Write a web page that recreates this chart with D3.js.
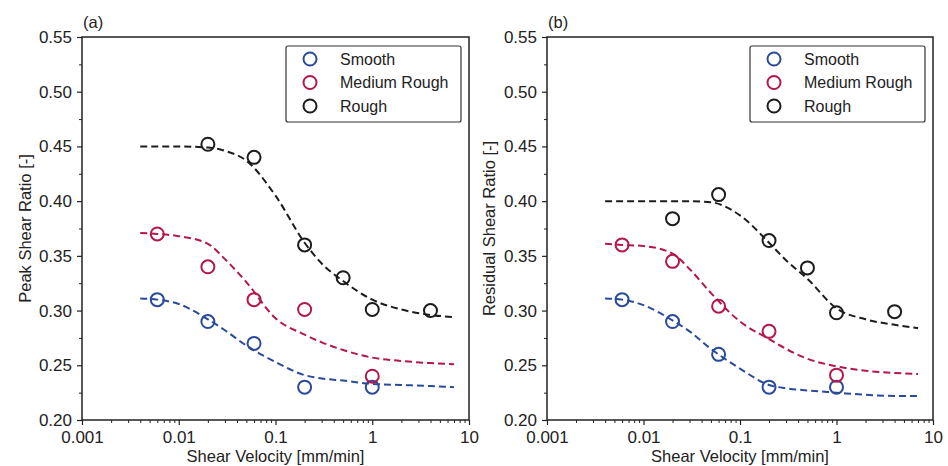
<!DOCTYPE html>
<html><head><meta charset="utf-8">
<script src="https://cdn.jsdelivr.net/npm/d3@7"></script>
<style>
body{margin:0;background:#fff;}
svg{display:block;font-family:"Liberation Sans",Arial,sans-serif;}
</style></head>
<body><svg id="chart" width="948" height="466"></svg>
<script>
// ---------- data ----------
const seriesNames = ["Smooth", "Medium Rough", "Rough"];
const seriesColors = ["#2a4a9a", "#b3174d", "#1c1c1c"];
const yTicks = [0.20, 0.25, 0.30, 0.35, 0.40, 0.45, 0.50, 0.55];
const xTicks = [0.001, 0.01, 0.1, 1, 10];
const xTickLabels = ["0.001", "0.01", "0.1", "1", "10"];

// Panel (a) Peak shear ratio - measured points
const peakSmoothX = [0.006, 0.02, 0.06, 0.2, 1];
const peakSmoothY = [0.31, 0.29, 0.27, 0.23, 0.23];
const peakMediumX = [0.006, 0.02, 0.06, 0.2, 1];
const peakMediumY = [0.37, 0.34, 0.31, 0.301, 0.24];
const peakRoughX = [0.02, 0.06, 0.2, 0.5, 1, 4];
const peakRoughY = [0.452, 0.44, 0.36, 0.33, 0.301, 0.30];
// Panel (a) fitted curves
const fitX = [0.004, 0.006, 0.01, 0.02, 0.03, 0.05, 0.1, 0.2, 0.3, 0.5, 1, 2, 4, 7];
const peakSmoothFit = [0.311, 0.310, 0.306, 0.292, 0.282, 0.268, 0.253, 0.241, 0.238, 0.236, 0.233, 0.232, 0.231, 0.230];
const peakMediumFit = [0.371, 0.370, 0.368, 0.361, 0.347, 0.326, 0.293, 0.278, 0.271, 0.264, 0.257, 0.254, 0.252, 0.251];
const peakRoughFit  = [0.450, 0.450, 0.450, 0.449, 0.446, 0.437, 0.405, 0.362, 0.343, 0.327, 0.310, 0.301, 0.296, 0.294];

// Panel (b) Residual shear ratio - measured points
const resSmoothX = [0.006, 0.02, 0.06, 0.2, 1];
const resSmoothY = [0.31, 0.29, 0.26, 0.23, 0.23];
const resMediumX = [0.006, 0.02, 0.06, 0.2, 1];
const resMediumY = [0.36, 0.345, 0.304, 0.281, 0.241];
const resRoughX = [0.02, 0.06, 0.2, 0.5, 1, 4];
const resRoughY = [0.384, 0.406, 0.364, 0.339, 0.298, 0.299];
// Panel (b) fitted curves
const fitX2 = [0.004, 0.006, 0.01, 0.02, 0.03, 0.05, 0.1, 0.2, 0.3, 0.5, 1, 2, 4, 7];
const resSmoothFit = [0.311, 0.310, 0.305, 0.291, 0.281, 0.265, 0.247, 0.232, 0.229, 0.227, 0.225, 0.223, 0.222, 0.222];
const resMediumFit = [0.361, 0.360, 0.359, 0.352, 0.338, 0.316, 0.290, 0.274, 0.265, 0.256, 0.249, 0.245, 0.243, 0.242];
const resRoughFit  = [0.400, 0.400, 0.400, 0.400, 0.400, 0.399, 0.387, 0.362, 0.346, 0.329, 0.302, 0.292, 0.287, 0.284];

// ---------- drawing ----------
const svg = d3.select("#chart");
const fontTick = 17, fontLabel = 16.5, fontLegend = 16;

function panel(opts) {
  const {left, right, top, bottom, tag, ylabel, ylabelX, points, fits, fx} = opts;
  const x = d3.scaleLog().domain([0.001, 10]).range([left, right]);
  const y = d3.scaleLinear().domain([0.20, 0.55]).range([bottom, top]);
  const g = svg.append("g");

  // x axis
  const xMinor = [];
  for (let d = 0.001; d < 10; d *= 10) for (let k = 2; k <= 9; k++) xMinor.push(d * k);
  const xa = g.append("g").attr("transform", `translate(0,${bottom})`)
    .call(d3.axisBottom(x).tickValues(xTicks).tickFormat((d, i) => xTickLabels[i]).tickSize(5).tickSizeOuter(0));
  xa.select(".domain").remove();
  xa.selectAll("text").attr("font-size", fontTick).attr("font-family", "Liberation Sans, Arial, sans-serif").attr("fill", "#222").attr("dy", "0.88em");
  xa.selectAll("line").attr("stroke", "#222").attr("stroke-width", 1.2);
  const xm = g.append("g").attr("transform", `translate(0,${bottom})`)
    .call(d3.axisBottom(x).tickValues(xMinor).tickFormat("").tickSize(3).tickSizeOuter(0));
  xm.select(".domain").remove();
  xm.selectAll("line").attr("stroke", "#222").attr("stroke-width", 1);

  // y axis
  const yMinor = yTicks.slice(0, -1).map((v, i) => (v + yTicks[i + 1]) / 2);
  const ya = g.append("g").attr("transform", `translate(${left},0)`)
    .call(d3.axisLeft(y).tickValues(yTicks).tickFormat(d3.format(".2f")).tickSize(5).tickSizeOuter(0).tickPadding(5));
  ya.select(".domain").remove();
  ya.selectAll("text").attr("font-size", fontTick).attr("font-family", "Liberation Sans, Arial, sans-serif").attr("fill", "#222");
  ya.selectAll("line").attr("stroke", "#222").attr("stroke-width", 1.2);
  const ym = g.append("g").attr("transform", `translate(${left},0)`)
    .call(d3.axisLeft(y).tickValues(yMinor).tickFormat("").tickSize(3).tickSizeOuter(0));
  ym.select(".domain").remove();
  ym.selectAll("line").attr("stroke", "#222").attr("stroke-width", 1);

  // fits
  const line = d3.line().x(d => x(d[0])).y(d => y(d[1])).curve(d3.curveMonotoneX);
  fits.forEach((f, i) => {
    g.append("path").attr("d", line(fx.map((xv, j) => [xv, f[j]])))
      .attr("fill", "none").attr("stroke", seriesColors[i]).attr("stroke-width", 2)
      .attr("stroke-dasharray", "7,4");
  });
  // points
  points.forEach((p, i) => {
    g.append("g").selectAll("circle").data(p[0].map((xv, j) => [xv, p[1][j]])).join("circle")
      .attr("cx", d => x(d[0])).attr("cy", d => y(d[1])).attr("r", 6.5)
      .attr("fill", "none").attr("stroke", seriesColors[i]).attr("stroke-width", 2);
  });

  // frame
  g.append("rect").attr("x", left).attr("y", top).attr("width", right - left).attr("height", bottom - top)
    .attr("fill", "none").attr("stroke", "#222").attr("stroke-width", 1.5);

  // legend
  const lx = right - 183, ly = top + 9, lw = 175, lh = 76;
  g.append("rect").attr("x", lx).attr("y", ly).attr("width", lw).attr("height", lh).attr("rx", 2)
    .attr("fill", "#fff").attr("stroke", "#333").attr("stroke-width", 1.2);
  seriesNames.forEach((n, i) => {
    const ry = ly + 13 + i * 23.5;
    g.append("circle").attr("cx", lx + 24).attr("cy", ry).attr("r", 6.5)
      .attr("fill", "none").attr("stroke", seriesColors[i]).attr("stroke-width", 2);
    g.append("text").attr("x", lx + 54).attr("y", ry).attr("dy", "0.35em")
      .attr("font-size", fontLegend).attr("fill", "#222").text(n);
  });

  // tag
  g.append("text").attr("x", left + 1).attr("y", top - 9).attr("font-size", fontLabel).attr("fill", "#222").text(tag);
  // axis labels
  g.append("text").attr("x", (left + right) / 2).attr("y", bottom + 42).attr("text-anchor", "middle")
    .attr("font-size", fontLabel).attr("fill", "#222").text("Shear Velocity [mm/min]");
  g.append("text").attr("transform", `translate(${ylabelX},${(top + bottom) / 2}) rotate(-90)`)
    .attr("text-anchor", "middle").attr("dy", "0.35em")
    .attr("font-size", fontLabel).attr("fill", "#222").text(ylabel);
}

panel({left: 82, right: 469, top: 37, bottom: 420, tag: "(a)", ylabel: "Peak Shear Ratio [-]", ylabelX: 25,
  points: [[peakSmoothX, peakSmoothY], [peakMediumX, peakMediumY], [peakRoughX, peakRoughY]],
  fits: [peakSmoothFit, peakMediumFit, peakRoughFit], fx: fitX});
panel({left: 547, right: 933, top: 37, bottom: 420, tag: "(b)", ylabel: "Residual Shear Ratio [-]", ylabelX: 489,
  points: [[resSmoothX, resSmoothY], [resMediumX, resMediumY], [resRoughX, resRoughY]],
  fits: [resSmoothFit, resMediumFit, resRoughFit], fx: fitX2});
</script></body></html>
